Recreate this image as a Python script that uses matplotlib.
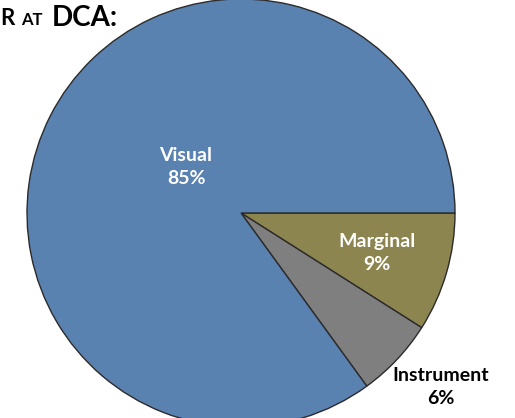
import matplotlib
matplotlib.use("Agg")
import matplotlib.pyplot as plt

# share of operations by flight condition
categories = ["Marginal", "Instrument", "Visual"]
shares = [9, 6, 85]
colors = ["#8d8550", "#7f7f7f", "#5a82b0"]

plt.rcParams['font.family'] = ['Lato', 'DejaVu Sans']

fig = plt.figure(figsize=(5.15, 4.18), dpi=100)
ax = fig.add_axes([0, 0, 1, 1])

wedges, _ = ax.pie(shares, colors=colors, startangle=0, counterclock=False,
                   center=(241, 205), radius=214, frame=True,
                   wedgeprops=dict(edgecolor='#2b2b2b', linewidth=1.0))
ax.set_xlim(0, 515)
ax.set_ylim(0, 418)
ax.set_aspect('equal')
ax.axis('off')

# label positions (pixel space, y measured from bottom)
label_pos = {"Visual": (186, 251, 'white'),
             "Marginal": (377, 165, 'white'),
             "Instrument": (441, 31, 'black')}
for name, val in zip(categories, shares):
    x, y, c = label_pos[name]
    ax.text(x, y, f"{name}\n{val}%", ha='center', va='center', color=c,
            fontsize=14, fontweight='bold', linespacing=1.45)

# clipped heading at the top left
fig.text(0.0, 0.955, "R", fontsize=16, fontweight='bold', va='center', ha='left')
fig.text(0.041, 0.952, "AT", fontsize=12, fontweight='bold', va='center', ha='left')
fig.text(0.1, 0.957, "DCA:", fontsize=20, fontweight='bold', va='center', ha='left')

fig.savefig("out.png", dpi=100)
